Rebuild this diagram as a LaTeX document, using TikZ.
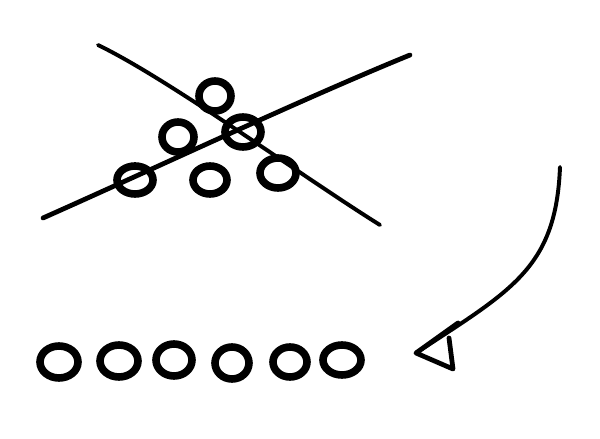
\documentclass[tikz,border=0pt]{standalone}
\usepackage{tikz}
\usetikzlibrary{calc}
\tikzset{
  stroke/.style={line width=3.4pt, line cap=round, line join=round},
  ring/.style={line width=5.4pt},
}
\def\ring(#1,#2)(#3:#4){\draw[ring] (#1,#2) ellipse (#3 and #4);}

\begin{document}
\begin{tikzpicture}[x=0.025cm, y=-0.025cm]
			%%%%% START %%%%%
			\fill[white] (0,0) rectangle (600,439);
			\useasboundingbox (0,0) rectangle (600,439);
			
			\draw[stroke] (43,218) .. controls (160,166) and (300,100) .. (410,55);
			\draw[stroke, line width=2.8pt] (98,45) .. controls (170,80) and (300,175) .. (380,225);
			
			\ring(215,96)(16:15);
			\ring(178,137)(16:15);
			\ring(243,132)(18:15);
			\ring(135,180)(18:14);
			\ring(210,180)(17:14);
			\ring(278,173)(18:15);
			
			\ring(59,362)(19:16);
			\ring(119,361)(19:16);
			\ring(174,360)(18:16);
			\ring(232,363)(17:16);
			\ring(290,362)(17:15);
			\ring(342,360)(19:15);
			
			\coordinate (tip) at (416,353);
			\draw[stroke, line width=2.8pt] (560,167) .. controls (556,268) and (512,290) .. (tip);
			\draw[stroke] (458,323) -- (tip) -- (453,369) -- (449,338);
			%%%%% END %%%%%
		\end{tikzpicture}
\end{document}
